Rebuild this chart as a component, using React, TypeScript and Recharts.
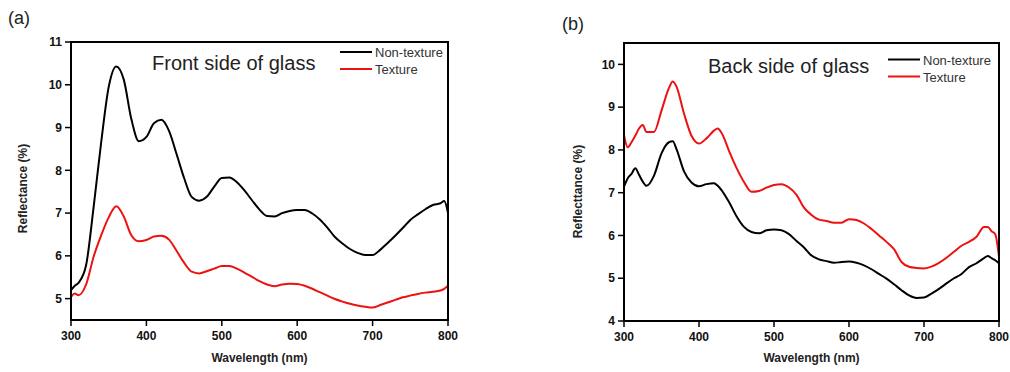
import React from "react";
import { LineChart, Line, XAxis, YAxis } from "recharts";

// ---------- Data ----------
const frontWavelength = [300, 305, 310, 320, 330, 340, 350, 360, 370, 380, 390, 400, 410, 420, 430, 440, 450, 460, 470, 480, 490, 500, 510, 520, 530, 540, 550, 560, 570, 580, 590, 600, 610, 620, 630, 640, 650, 660, 670, 680, 690, 700, 710, 720, 730, 740, 750, 760, 770, 780, 790, 795, 800];
const frontNonTexture = [5.2, 5.3, 5.37, 5.78, 7.14, 8.65, 9.95, 10.43, 10.12, 9.2, 8.68, 8.78, 9.1, 9.18, 8.92, 8.38, 7.82, 7.38, 7.29, 7.38, 7.62, 7.82, 7.83, 7.72, 7.53, 7.3, 7.08, 6.93, 6.92, 7.0, 7.05, 7.07, 7.07, 6.99, 6.85, 6.66, 6.44, 6.29, 6.16, 6.07, 6.02, 6.02, 6.14, 6.3, 6.47, 6.65, 6.84, 6.97, 7.09, 7.19, 7.23, 7.28, 7.0];
const frontTexture = [5.04, 5.12, 5.08, 5.33, 5.98, 6.48, 6.9, 7.16, 6.92, 6.48, 6.34, 6.37, 6.45, 6.47, 6.38, 6.12, 5.84, 5.63, 5.59, 5.64, 5.7, 5.76, 5.76, 5.7, 5.61, 5.51, 5.41, 5.33, 5.29, 5.33, 5.35, 5.34, 5.3, 5.23, 5.15, 5.07, 4.99, 4.93, 4.88, 4.84, 4.81, 4.79, 4.85, 4.91, 4.97, 5.03, 5.07, 5.11, 5.14, 5.16, 5.19, 5.23, 5.3];

const backWavelength = [300, 305, 310, 315, 320, 325, 330, 340, 350, 360, 365, 370, 380, 390, 400, 410, 420, 425, 430, 440, 450, 460, 470, 480, 490, 500, 510, 520, 530, 540, 550, 560, 570, 580, 590, 600, 610, 620, 630, 640, 650, 660, 670, 680, 690, 700, 710, 720, 730, 740, 750, 760, 770, 780, 785, 790, 795, 800];
const backNonTexture = [7.14, 7.34, 7.44, 7.57, 7.42, 7.26, 7.16, 7.4, 7.92, 8.18, 8.2, 8.02, 7.5, 7.24, 7.15, 7.2, 7.22, 7.16, 7.06, 6.78, 6.45, 6.2, 6.08, 6.05, 6.12, 6.14, 6.12, 6.03, 5.87, 5.72, 5.53, 5.44, 5.4, 5.36, 5.38, 5.39, 5.36, 5.3, 5.21, 5.1, 4.99, 4.86, 4.72, 4.6, 4.54, 4.55, 4.64, 4.75, 4.88, 5.0, 5.1, 5.26, 5.35, 5.47, 5.52, 5.47, 5.42, 5.35];
const backTexture = [8.35, 8.06, 8.18, 8.33, 8.5, 8.58, 8.42, 8.42, 8.92, 9.45, 9.6, 9.48, 8.85, 8.33, 8.15, 8.27, 8.45, 8.5, 8.4, 7.98, 7.58, 7.25, 7.02, 7.04, 7.12, 7.18, 7.2, 7.12, 6.95, 6.65, 6.48, 6.37, 6.34, 6.3, 6.3, 6.38, 6.36, 6.28, 6.15, 6.0, 5.85, 5.68, 5.38, 5.27, 5.24, 5.23, 5.27, 5.36, 5.48, 5.62, 5.76, 5.85, 5.97, 6.2, 6.2, 6.1, 6.03, 5.5];

const xTicks = [300, 400, 500, 600, 700, 800];
const frontYTicks = [5, 6, 7, 8, 9, 10, 11];
const backYTicks = [4, 5, 6, 7, 8, 9, 10];

const seriesNames = ["Non-texture", "Texture"];
const seriesColors = ["#000000", "#ee1111"];

const frontRows = frontWavelength.map((wl, i) => ({ wl, non: frontNonTexture[i], tex: frontTexture[i] }));
const backRows = backWavelength.map((wl, i) => ({ wl, non: backNonTexture[i], tex: backTexture[i] }));

const FONT = "'Liberation Sans', Arial, sans-serif";
const tickStyle = { fontFamily: FONT, fontSize: 12, fontWeight: 700, fill: "#111" };

const CHART_W = 505;
const CHART_H = 372;

type Layout = {
  left: number;
  margin: { top: number; right: number; bottom: number; left: number };
  yWidth: number;
  xHeight: number;
};

const frontLayout: Layout = { left: 0, margin: { top: 42, right: 57, bottom: 0, left: 0 }, yWidth: 71, xHeight: 52 };
const backLayout: Layout = { left: 505, margin: { top: 43, right: 11, bottom: 0, left: 0 }, yWidth: 119, xHeight: 51 };

function plotBox(l: Layout) {
  const x = l.left + l.margin.left + l.yWidth;
  const y = l.margin.top;
  const w = CHART_W - (l.margin.left + l.yWidth) - l.margin.right;
  const h = CHART_H - y - l.xHeight - l.margin.bottom;
  return { x, y, w, h };
}

type PanelProps = {
  rows: any[];
  yDomain: [number, number];
  yTicks: number[];
  layout: Layout;
};

function Panel({ rows, yDomain, yTicks, layout }: PanelProps) {
  return (
    <div style={{ position: "absolute", left: layout.left, top: 0 }}>
      <LineChart width={CHART_W} height={CHART_H} data={rows} margin={layout.margin}>
        <XAxis
          dataKey="wl"
          type="number"
          domain={[300, 800]}
          ticks={xTicks}
          allowDataOverflow
          height={layout.xHeight}
          tickSize={6}
          tickMargin={5}
          axisLine={{ stroke: "#000", strokeWidth: 2 }}
          tickLine={{ stroke: "#000", strokeWidth: 1.5 }}
          tick={tickStyle}
        />
        <YAxis
          type="number"
          domain={yDomain}
          ticks={yTicks}
          allowDataOverflow
          width={layout.yWidth}
          tickSize={6}
          tickMargin={3}
          axisLine={{ stroke: "#000", strokeWidth: 2 }}
          tickLine={{ stroke: "#000", strokeWidth: 1.5 }}
          tick={tickStyle}
        />
        <Line dataKey="non" name={seriesNames[0]} stroke={seriesColors[0]} strokeWidth={2} dot={false} type="monotone" isAnimationActive={false} />
        <Line dataKey="tex" name={seriesNames[1]} stroke={seriesColors[1]} strokeWidth={2} dot={false} type="monotone" isAnimationActive={false} />
      </LineChart>
    </div>
  );
}

function FrameRect({ layout }: { layout: Layout }) {
  const b = plotBox(layout);
  return <rect x={b.x} y={b.y} width={b.w} height={b.h} fill="none" stroke="#000" strokeWidth={2} />;
}

function LegendBlock({ x, y }: { x: number; y: number }) {
  return (
    <g>
      {seriesNames.map((n, i) => (
        <g key={n}>
          <line x1={x} x2={x + 32} y1={y + i * 17} y2={y + i * 17} stroke={seriesColors[i]} strokeWidth={2} />
          <text x={x + 35} y={y + i * 17 + 5} fontFamily={FONT} fontSize={13} fill="#333">
            {n}
          </text>
        </g>
      ))}
    </g>
  );
}

export default function App() {
  return (
    <div style={{ position: "absolute", left: 0, top: 0, width: 1010, height: 372, background: "#fff", overflow: "hidden" }}>
      <Panel rows={frontRows} yDomain={[4.5, 11]} yTicks={frontYTicks} layout={frontLayout} />
      <Panel rows={backRows} yDomain={[4, 10.5]} yTicks={backYTicks} layout={backLayout} />
      <svg width={1010} height={372} style={{ position: "absolute", left: 0, top: 0, pointerEvents: "none", zIndex: 6 }}>
        <FrameRect layout={frontLayout} />
        <FrameRect layout={backLayout} />
        <text x={8} y={24} fontFamily={FONT} fontSize={18} fill="#222">(a)</text>
        <text x={562} y={30} fontFamily={FONT} fontSize={18} fill="#222">(b)</text>
        <text x={152} y={70} fontFamily={FONT} fontSize={20} fill="#222">Front side of glass</text>
        <text x={708} y={72.5} fontFamily={FONT} fontSize={20} fill="#222">Back side of glass</text>
        <LegendBlock x={340} y={52} />
        <LegendBlock x={888} y={59.5} />
        <text x={259.5} y={362} textAnchor="middle" fontFamily={FONT} fontSize={12} fontWeight={700} fill="#222">Wavelength (nm)</text>
        <text x={811.5} y={362} textAnchor="middle" fontFamily={FONT} fontSize={12} fontWeight={700} fill="#222">Wavelength (nm)</text>
        <text transform="translate(27,188.5) rotate(-90)" textAnchor="middle" fontFamily={FONT} fontSize={12} fontWeight={700} fill="#222">Reflectance (%)</text>
        <text transform="translate(581.5,191.5) rotate(-90)" textAnchor="middle" fontFamily={FONT} fontSize={12} fontWeight={700} fill="#222">Reflecttance (%)</text>
      </svg>
    </div>
  );
}
